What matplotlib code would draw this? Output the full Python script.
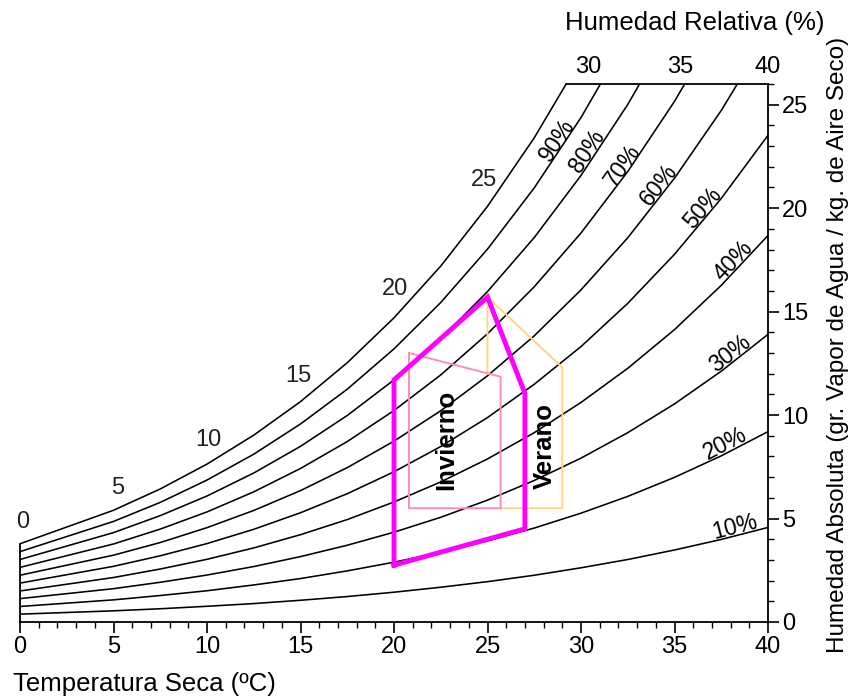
import numpy as np
import matplotlib
matplotlib.use("Agg")
import matplotlib.pyplot as plt
from matplotlib.ticker import MultipleLocator

plt.rcParams['font.family'] = ['Liberation Sans', 'DejaVu Sans']

# Temperatura seca (ºC) and humedad absoluta (g/kg) read for each RH curve
temps = [0, 5, 7.5, 10, 12.5, 15, 17.5, 20, 22.5, 25, 27.5, 30, 32.5, 35, 37.5, 40]
hr_100 = [3.78, 5.40, 6.43, 7.63, 9.03, 10.65, 12.53, 14.70, 17.20, 20.09, 23.40, 27.21, 31.58, 36.58, 42.32, 48.89]
hr_90 = [3.40, 4.86, 5.78, 6.86, 8.11, 9.57, 11.25, 13.20, 15.44, 18.02, 20.98, 24.38, 28.28, 32.73, 37.83, 43.66]
hr_80 = [3.02, 4.32, 5.14, 6.09, 7.20, 8.49, 9.98, 11.70, 13.69, 15.97, 18.58, 21.58, 25.01, 28.93, 33.40, 38.51]
hr_70 = [2.64, 3.77, 4.49, 5.32, 6.29, 7.42, 8.72, 10.22, 11.94, 13.93, 16.20, 18.80, 21.77, 25.16, 29.03, 33.44]
hr_60 = [2.26, 3.23, 3.84, 4.56, 5.39, 6.35, 7.46, 8.74, 10.21, 11.90, 13.83, 16.05, 18.57, 21.45, 24.72, 28.44]
hr_50 = [1.88, 2.69, 3.20, 3.79, 4.48, 5.28, 6.20, 7.26, 8.48, 9.88, 11.49, 13.31, 15.40, 17.77, 20.47, 23.52]
hr_40 = [1.50, 2.15, 2.56, 3.03, 3.58, 4.22, 4.95, 5.80, 6.77, 7.88, 9.15, 10.61, 12.26, 14.13, 16.27, 18.68]
hr_30 = [1.13, 1.61, 1.92, 2.27, 2.68, 3.16, 3.71, 4.34, 5.06, 5.89, 6.84, 7.92, 9.15, 10.54, 12.12, 13.90]
hr_20 = [0.75, 1.07, 1.28, 1.51, 1.79, 2.10, 2.47, 2.89, 3.37, 3.92, 4.54, 5.26, 6.07, 6.99, 8.03, 9.20]
hr_10 = [0.38, 0.54, 0.64, 0.76, 0.89, 1.05, 1.23, 1.44, 1.68, 1.95, 2.26, 2.62, 3.02, 3.48, 3.99, 4.57]

# RH labels and where along each curve they sit
rh_labels = ['90%', '80%', '70%', '60%', '50%', '40%', '30%', '20%', '10%']
rh_label_x = [29.0, 30.64, 32.5, 34.45, 36.8, 38.4, 38.2, 37.9, 38.3]

# saturation temperature labels along the 100% curve
sat_labels = ['0', '5', '10', '15', '20', '25']
sat_label_x = [0.15, 5.2, 10.1, 14.9, 20.05, 24.8]
sat_label_y = [4.85, 6.5, 8.8, 11.9, 16.1, 21.35]
top_labels = ['30', '35', '40']
top_label_x = [30.4, 35.3, 40.0]

# zones
confort_t = [20, 20, 25, 27, 27, 20]
confort_w = [2.75, 11.7, 15.7, 11.05, 4.5, 2.75]
invierno_t = [20.8, 25.7, 25.7, 20.8, 20.8]
invierno_w = [13.0, 11.85, 5.5, 5.5, 13.0]
verano_t = [25, 25, 29, 29, 25.7]
verano_w = [12.0, 15.7, 12.3, 5.5, 5.5]

fig = plt.figure(figsize=(8.5, 6.97), dpi=100)
ax = fig.add_axes([20 / 850, 75 / 697, 748 / 850, 538 / 697])
ax.set_xlim(0, 40)
ax.set_ylim(0, 26)

curves = [hr_100, hr_90, hr_80, hr_70, hr_60, hr_50, hr_40, hr_30, hr_20, hr_10]
for w in curves:
    ax.plot(temps, w, color='black', lw=1.15)

# frame: left edge up to saturation, top edge from saturation to 40
ax.spines['top'].set_visible(False)
ax.spines['left'].set_visible(False)
ax.plot([0, 0], [0, hr_100[0]], color='black', lw=1.3, clip_on=False)
x_cross = np.interp(26, hr_100, temps)
ax.plot([x_cross, 40], [26, 26], color='black', lw=1.3, clip_on=False)
ax.spines['bottom'].set_linewidth(1.3)
ax.spines['right'].set_linewidth(1.3)

ax.xaxis.set_major_locator(MultipleLocator(5))
ax.xaxis.set_minor_locator(MultipleLocator(1))
ax.yaxis.set_major_locator(MultipleLocator(5))
ax.yaxis.set_minor_locator(MultipleLocator(1))
ax.yaxis.tick_right()
ax.tick_params(which='major', direction='out', length=8, width=1.2, labelsize=17, pad=2)
ax.tick_params(which='minor', direction='out', length=4, width=1.0)
ax.tick_params(axis='y', which='both', left=False, right=True)

# zones
ax.plot(verano_t, verano_w, color='#FFD584', lw=1.4)
ax.plot(invierno_t, invierno_w, color='#FF8FB0', lw=1.4)
ax.plot(confort_t, confort_w, color='#FF00FF', lw=3.5, solid_joinstyle='miter')
ax.text(22.8, 8.8, 'Invierno', rotation=90, ha='center', va='center',
        fontsize=18.5, fontweight='bold')
ax.text(28.05, 8.5, 'Verano', rotation=90, ha='center', va='center',
        fontsize=18.5, fontweight='bold')

# RH labels sitting on their curves, rotated with the local slope
for lab, x, w in zip(rh_labels, rh_label_x, curves[1:]):
    y = np.interp(x, temps, w)
    p0 = ax.transData.transform((x - 0.4, np.interp(x - 0.4, temps, w)))
    p1 = ax.transData.transform((x + 0.4, np.interp(x + 0.4, temps, w)))
    ang = np.degrees(np.arctan2(p1[1] - p0[1], p1[0] - p0[0]))
    ax.text(x, y + 0.1, lab, rotation=ang, ha='center', va='baseline', fontsize=16.5,
            rotation_mode='anchor')
for lab, x, y in zip(sat_labels, sat_label_x, sat_label_y):
    ax.text(x, y, lab, ha='center', va='center', fontsize=17, color='#222222')
for lab, x in zip(top_labels, top_label_x):
    ax.text(x, 26.3, lab, ha='center', va='bottom', fontsize=17, clip_on=False)

fig.text(13 / 850, 1 - 684 / 697, 'Temperatura Seca (ºC)', ha='left', va='center', fontsize=18.5)
fig.text(565 / 850, 1 - 23 / 697, 'Humedad Relativa (%)', ha='left', va='center', fontsize=18.5)
fig.text(838 / 850, 1 - 345 / 697, 'Humedad Absoluta (gr. Vapor de Agua / kg. de Aire Seco)',
         rotation=90, ha='center', va='center', fontsize=17.5)

fig.savefig('out.png', dpi=100)
